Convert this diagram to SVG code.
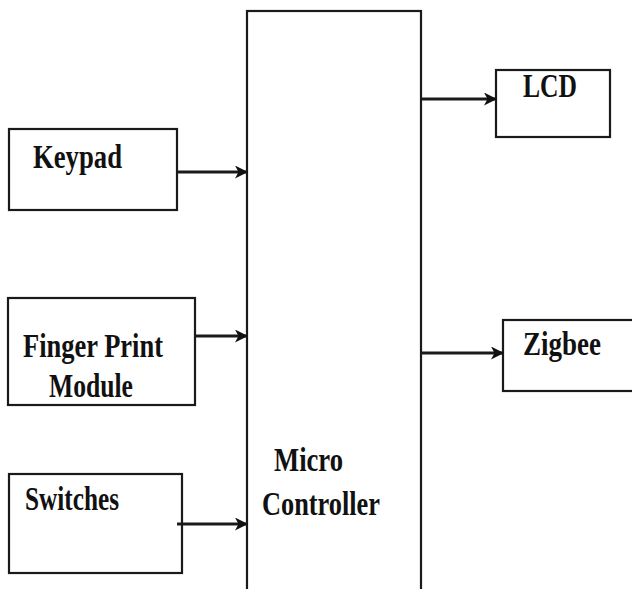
<svg xmlns="http://www.w3.org/2000/svg" width="632" height="589" viewBox="0 0 632 589">
  <style>
    .box { fill: #fff; stroke: #1a1a1a; stroke-width: 2.2; }
    .lbl { font-family: 'Liberation Serif', 'DejaVu Serif', serif; font-weight: bold; font-size: 33px; fill: #111; }
    .wire { stroke: #1a1a1a; stroke-width: 2.8; fill: none; marker-end: url(#head); }
  </style>
  <defs>
    <marker id="head" markerWidth="13" markerHeight="13" refX="12" refY="6.5" orient="auto" markerUnits="userSpaceOnUse">
      <path d="M0,0 L13,6.5 L0,13 L3.5,6.5 Z" fill="#111"/>
    </marker>
  </defs>
  <rect width="632" height="589" fill="#fff"/>

  <!-- central controller block, runs off the bottom edge -->
  <g id="controller">
    <rect class="box" x="247" y="11" width="174" height="600"/>
    <text class="lbl" x="274" y="471" textLength="69" lengthAdjust="spacingAndGlyphs">Micro</text>
    <text class="lbl" x="262" y="515" textLength="118" lengthAdjust="spacingAndGlyphs">Controller</text>
  </g>

  <g id="keypad">
    <rect class="box" x="9" y="129" width="168" height="81"/>
    <text class="lbl" x="33" y="168" textLength="89" lengthAdjust="spacingAndGlyphs">Keypad</text>
  </g>

  <g id="fingerprint">
    <rect class="box" x="8" y="298" width="187" height="107"/>
    <text class="lbl" x="23" y="357" textLength="140" lengthAdjust="spacingAndGlyphs">Finger Print</text>
    <text class="lbl" x="49" y="397" textLength="84" lengthAdjust="spacingAndGlyphs">Module</text>
  </g>

  <g id="switches">
    <rect class="box" x="9" y="474" width="173" height="99"/>
    <text class="lbl" x="25" y="510" textLength="94" lengthAdjust="spacingAndGlyphs">Switches</text>
  </g>

  <g id="lcd">
    <rect class="box" x="496" y="70" width="114" height="67"/>
    <text class="lbl" x="523" y="97" textLength="54" lengthAdjust="spacingAndGlyphs">LCD</text>
  </g>

  <g id="zigbee">
    <rect class="box" x="503" y="320" width="140" height="71"/>
    <text class="lbl" x="523" y="355" textLength="78" lengthAdjust="spacingAndGlyphs">Zigbee</text>
  </g>

  <g id="connectors">
    <line class="wire" x1="178" y1="172" x2="247" y2="172"/>
    <line class="wire" x1="196" y1="336" x2="247" y2="336"/>
    <line class="wire" x1="177" y1="524" x2="247" y2="524"/>
    <line class="wire" x1="422" y1="99" x2="496" y2="99"/>
    <line class="wire" x1="422" y1="353" x2="503" y2="353"/>
  </g>
</svg>
